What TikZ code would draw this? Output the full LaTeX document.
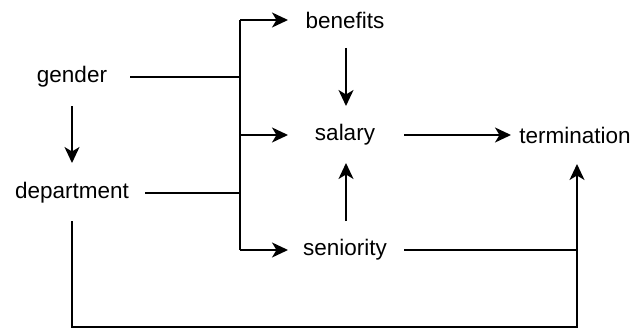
\documentclass[tikz,border=0pt]{standalone}
\usepackage{fontspec}
\setmainfont{Liberation Sans}
\usetikzlibrary{arrows.meta}
\begin{document}
\begin{tikzpicture}[x=1pt,y=-1pt,
  lbl/.style={inner sep=0pt, font=\fontsize{22.5}{26}\selectfont},
  con/.style={line width=1.7pt, -{Stealth[length=16pt,width=15pt,inset=4.5pt]}},
  ln/.style={line width=1.7pt}]
\useasboundingbox (0,0) rectangle (632,329);
\node[lbl] (gender) at (72,77) {gender};
\node[lbl] (dept) at (72,193) {department};
\node[lbl] (ben) at (345,20) {benefits};
\node[lbl] (sal) at (345,135) {salary};
\node[lbl] (sen) at (345,250) {seniority};
\node[lbl] (term) at (575,135) {termination};
\coordinate (bg) at (240,77);
\coordinate (bd) at (240,193);
\coordinate (bt) at (240,20);
\coordinate (bs) at (240,135);
\coordinate (bb) at (240,250);
\coordinate (dl) at (72,327);
\coordinate (dr) at (577,327);
\coordinate (sr) at (577,250);
% gender -> department
\draw[con] (72,106) -- (72,163);
% gender/department to bus
\draw[ln] (130,77) -- (bg);
\draw[ln] (145,193) -- (bd);
\draw[ln] (bt) -- (bb);
\draw[con] (bt) -- (288,20);
\draw[con] (bs) -- (288,135);
\draw[con] (bb) -- (288,250);
% benefits -> salary
\draw[con] (346,48) -- (346,106);
% seniority -> salary
\draw[con] (346,221) -- (346,163);
% salary -> termination
\draw[con] (404,135) -- (511,135);
% seniority -> termination
\draw[ln] (404,250) -- (sr);
% department -> termination
\draw[con] (72,221) -- (dl) -- (dr) -- (577,164);
\end{tikzpicture}
\end{document}
